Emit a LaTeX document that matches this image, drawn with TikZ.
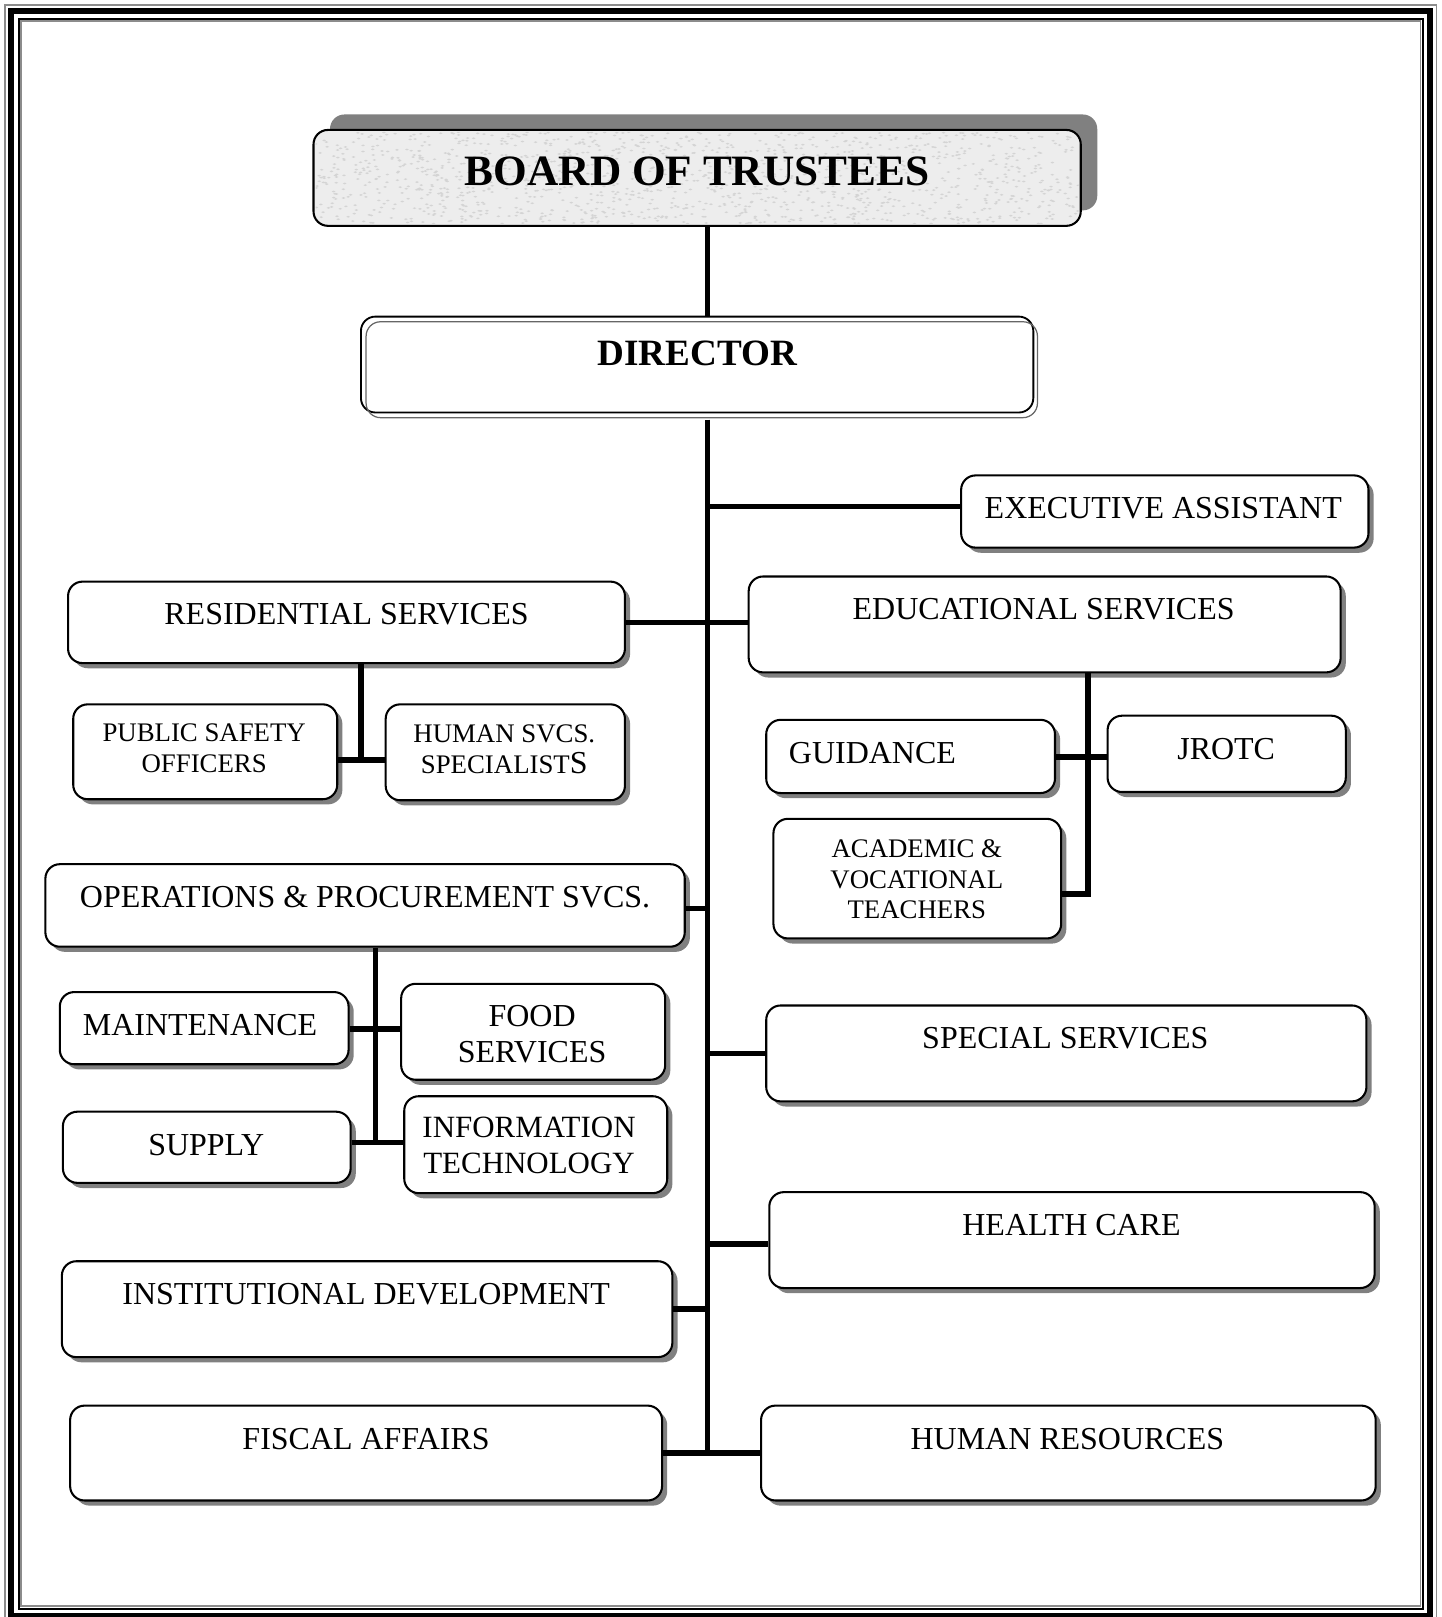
\documentclass[tikz,border=0pt]{standalone}
\usepackage{fontspec}
\setmainfont{Liberation Serif}
\usetikzlibrary{shadows}
\tikzset{
  box/.style={draw=black, line width=1pt, rounded corners=7pt, fill=white, inner sep=0pt,
    drop shadow={shadow xshift=2.5pt, shadow yshift=-2.5pt, fill=black!50, opacity=1}},
  conn/.style={line width=2.7pt, draw=black},
  lbl/.style={font=\fontsize{15.5}{17.5}\selectfont, align=center, inner sep=0pt},
  slbl/.style={font=\fontsize{13}{15}\selectfont, align=center, inner sep=0pt},
}
\newcommand\mkbox[6][box]{%
  \node[#1, minimum width={(#5-#3)*0.5pt}, minimum height={(#6-#4)*0.5pt}]
    (#2) at ({(#3+#5)/2},{(#4+#6)/2}) {};}
\begin{document}
\begin{tikzpicture}[x=0.5pt,y=-0.5pt]
\useasboundingbox (0,0) rectangle (1398,1568);
% frame
\draw[black!45, line width=0.7pt] (5,5) rectangle (1393,1575);
\draw[black, line width=3pt] (11,11) rectangle (1387,1567);
\draw[black, line width=1pt] (18,18) rectangle (1380,1560);
\draw[black!45, line width=0.7pt] (20.5,20.5) rectangle (1377.5,1557.5);

% board of trustees
\node[draw=black, line width=1pt, rounded corners=7pt, fill=black!7, inner sep=0pt,
  minimum width={(1048-304)*0.5pt}, minimum height={(219-126)*0.5pt},
  drop shadow={shadow xshift=8pt, shadow yshift=7.5pt, fill=black!50, opacity=1}]
  (bot) at ({(304+1048)/2},{(126+219)/2}) {};
\begin{scope}
  \clip[rounded corners=6pt] (306,128) rectangle (1046,217);
  \pgfmathsetseed{7}
  \foreach \i in {1,...,1400}{
    \fill[black!17] ({306+740*rnd},{128+89*rnd}) ellipse (0.9pt and 0.45pt);
  }
\end{scope}
\node[font=\fontsize{21}{24}\selectfont\bfseries, inner sep=0pt] (botl) at (676,166) {BOARD OF TRUSTEES};

% director (double outline)
\node[draw=black, line width=0.9pt, rounded corners=7pt, inner sep=0pt,
  minimum width={(1002-350)*0.5pt}, minimum height={(400-307)*0.5pt}]
  (dir) at ({(350+1002)/2},{(307+400)/2}) {};
\draw[black!60, line width=0.6pt, rounded corners=7pt] (355,312) rectangle (1006,405);
\node[font=\fontsize{18}{21}\selectfont\bfseries, inner sep=0pt] (dirl) at (676,343) {DIRECTOR};

% boxes
\mkbox{exe}{932}{461}{1327}{531}
\mkbox{res}{66}{564}{606}{643}
\mkbox{edu}{726}{559}{1300}{652}
\mkbox{pso}{71}{683}{327}{775}
\mkbox{hss}{374}{683}{606}{776}
\mkbox{gui}{743}{698}{1023}{769}
\mkbox{jro}{1074}{694}{1305}{768}
\mkbox{aca}{750}{794}{1029}{910}
\mkbox{ops}{44}{838}{664}{918}
\mkbox{mai}{58}{962}{338}{1032}
\mkbox{foo}{389}{954}{645}{1047}
\mkbox{sup}{61}{1078}{340}{1147}
\mkbox{inf}{392}{1063}{647}{1157}
\mkbox{spe}{743}{975}{1325}{1068}
\mkbox{hea}{746}{1156}{1333}{1249}
\mkbox{ins}{60}{1223}{652}{1316}
\mkbox{fis}{68}{1363}{642}{1455}
\mkbox{hr}{738}{1363}{1334}{1455}

% labels
\node[lbl] (exel) at (1128,493) {EXECUTIVE ASSISTANT};
\node[lbl] (resl) at (336,596) {RESIDENTIAL SERVICES};
\node[lbl] (edul) at (1012,591) {EDUCATIONAL SERVICES};
\node[slbl] (psol) at (198,726) {PUBLIC SAFETY\\OFFICERS};
\node[slbl] (hssl) at (489,727) {HUMAN SVCS.\\SPECIALIST{\fontsize{15.5}{15}\selectfont S}};
\node[lbl] (guil) at (846,730) {GUIDANCE};
\node[lbl] (jrol) at (1189,726) {JROTC};
\node[slbl, font=\fontsize{13}{14.8}\selectfont] (acal) at (889,853) {ACADEMIC \&\\VOCATIONAL\\TEACHERS};
\node[lbl] (opsl) at (354,870) {OPERATIONS \& PROCUREMENT SVCS.};
\node[lbl] (mail) at (194,994) {MAINTENANCE};
\node[lbl] (fool) at (516,1003) {FOOD\\SERVICES};
\node[lbl] (supl) at (200,1110) {SUPPLY};
\node[lbl, font=\fontsize{15}{17.5}\selectfont] (infl) at (513,1111) {INFORMATION\\TECHNOLOGY};
\node[lbl] (spel) at (1033,1007) {SPECIAL SERVICES};
\node[lbl] (heal) at (1039,1188) {HEALTH CARE};
\node[lbl] (insl) at (355,1255) {INSTITUTIONAL DEVELOPMENT};
\node[lbl] (fisl) at (355,1395) {FISCAL AFFAIRS};
\node[lbl] (hrl) at (1035,1395) {HUMAN RESOURCES};

% connectors
\coordinate (tx) at (686,0);
\draw[conn] (bot.south -| tx) -- (dir.north -| tx);
\draw[conn] ([yshift=-3pt]dir.south -| tx) -- (fis.east -| tx);
\draw[conn] ([yshift=2.5pt]exe.west -| tx) -- ([yshift=2.5pt]exe.west);
\draw[conn] (res.east) -- (res.east -| edu.west);
\coordinate (rj) at (350,737);
\draw[conn] (res.south -| rj) -- (rj);
\draw[conn] (pso.east |- rj) -- (hss.west |- rj);
\coordinate (ej) at (1055,734);
\coordinate (ea) at (1055,867);
\draw[conn, line join=miter] (edu.south -| ej) -- (ea) -- (aca.east |- ea);
\draw[conn] (gui.east |- ej) -- (jro.west |- ej);
\draw[conn] ([yshift=-1.5pt]ops.east) -- ([yshift=-1.5pt]ops.east -| tx);
\coordinate (oj1) at (364,998);
\coordinate (oj2) at (364,1108);
\draw[conn] (ops.south -| oj1) -- (oj2);
\draw[conn] (mai.east |- oj1) -- (foo.west |- oj1);
\draw[conn] (sup.east |- oj2) -- (inf.west |- oj2);
\draw[conn] (spe.west -| tx) -- (spe.west);
\draw[conn] ([yshift=-2pt]hea.west -| tx) -- ([yshift=-2pt]hea.west);
\draw[conn] (ins.east) -- (ins.east -| tx);
\draw[conn] (fis.east) -- (hr.west);
\end{tikzpicture}
\end{document}
